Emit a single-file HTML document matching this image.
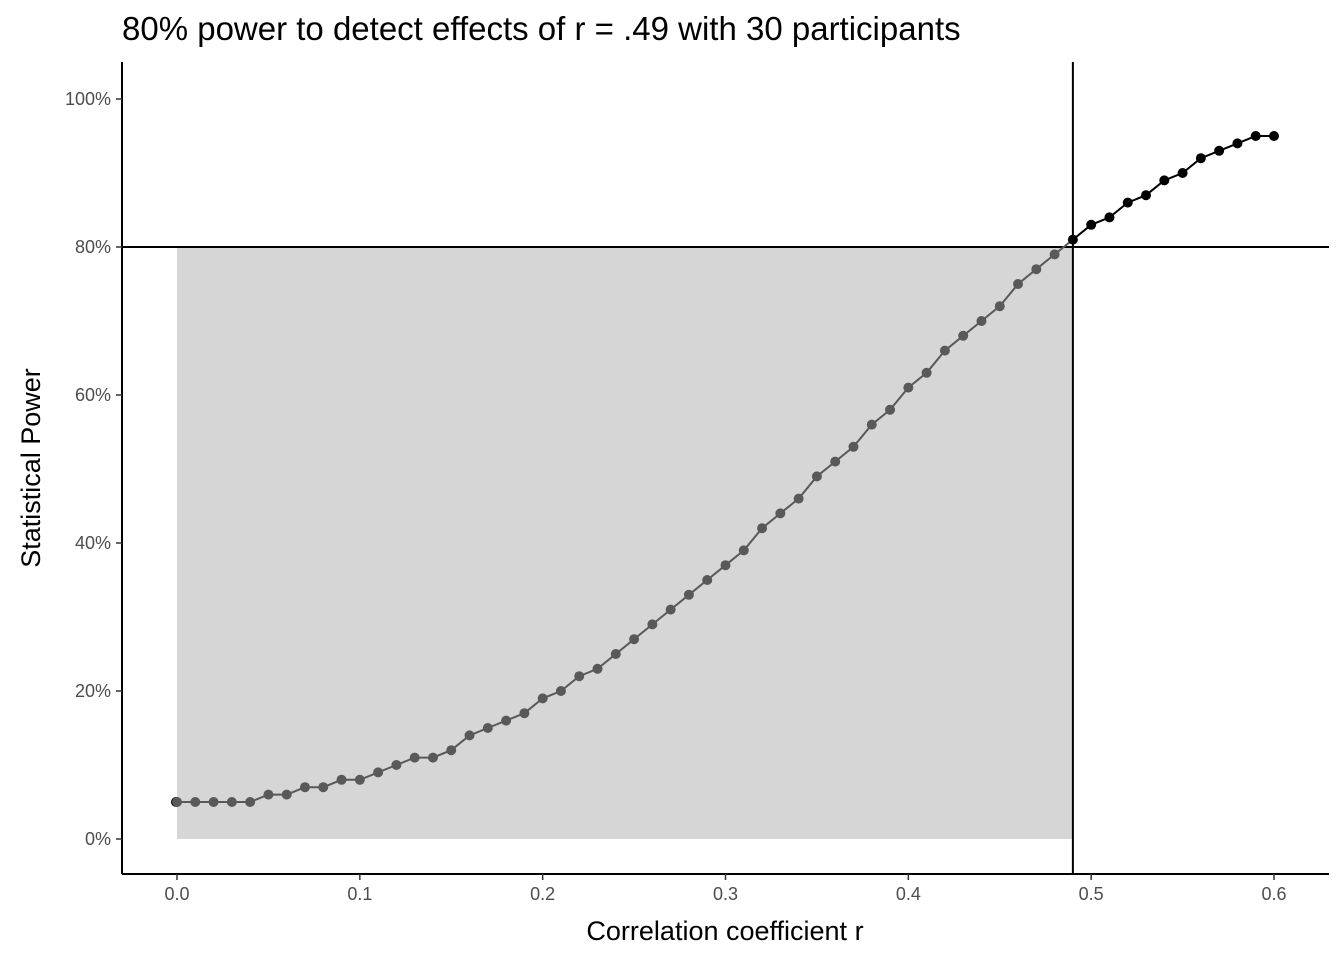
<!DOCTYPE html>
<html><head><meta charset="utf-8"><style>
body{margin:0;background:#fff;font-family:"Liberation Sans",Arial,sans-serif;}
svg text{font-family:"Liberation Sans",Arial,sans-serif;}
</style></head><body>
<svg id="chart" width="1344" height="960">
<text x="122" y="40" font-size="33" fill="#000">80% power to detect effects of r = .49 with 30 participants</text>
<text x="725" y="940" font-size="27" text-anchor="middle" fill="#000">Correlation coefficient r</text>
<text transform="translate(40,468) rotate(-90)" font-size="27" text-anchor="middle" fill="#000">Statistical Power</text>
<g id="plot"></g>
</svg>
<script>
const rValues=[0,0.01,0.02,0.03,0.04,0.05,0.06,0.07,0.08,0.09,0.10,0.11,0.12,0.13,0.14,0.15,0.16,0.17,0.18,0.19,0.20,0.21,0.22,0.23,0.24,0.25,0.26,0.27,0.28,0.29,0.30,0.31,0.32,0.33,0.34,0.35,0.36,0.37,0.38,0.39,0.40,0.41,0.42,0.43,0.44,0.45,0.46,0.47,0.48,0.49,0.50,0.51,0.52,0.53,0.54,0.55,0.56,0.57,0.58,0.59,0.60];
const powerValues=[5,5,5,5,5,6,6,7,7,8,8,9,10,11,11,12,14,15,16,17,19,20,22,23,25,27,29,31,33,35,37,39,42,44,46,49,51,53,56,58,61,63,66,68,70,72,75,77,79,81,83,84,86,87,89,90,92,93,94,95,95];
const xTicks=[0,0.1,0.2,0.3,0.4,0.5,0.6];
const xTickLabels=["0.0","0.1","0.2","0.3","0.4","0.5","0.6"];
const yTicks=[0,20,40,60,80,100];
const yTickLabels=["0%","20%","40%","60%","80%","100%"];
const targetR=[0.49];
const targetPower=[80];
const X=v=>177+(v/0.6)*(1274-177);
const Y=v=>839-(v/100)*(839-99);
const ns="http://www.w3.org/2000/svg";
const g=document.getElementById('plot');
function mk(t,a){const e=document.createElementNS(ns,t);for(const k in a)e.setAttribute(k,a[k]);g.appendChild(e);return e;}
const L=122,R=1329,T=62,B=874;
let e;
e=mk('rect',{x:X(0),y:Y(targetPower[0]),width:X(targetR[0])-X(0),height:Y(0)-Y(targetPower[0]),fill:'#d6d6d6'});


e=mk('line',{x1:L,x2:R,y1:Y(targetPower[0]),y2:Y(targetPower[0]),stroke:'#000','stroke-width':2});


e=mk('line',{x1:X(targetR[0]),x2:X(targetR[0]),y1:T,y2:B,stroke:'#000','stroke-width':2});


let gp=[],bp=[];
rValues.forEach((r,i)=>{const p=X(r)+','+Y(powerValues[i]);if(r<targetR[0]-1e-9)gp.push(p);else bp.push(p);});
const idx=rValues.findIndex(r=>r>=targetR[0]-1e-9);
if(idx>0)gp.push(X(rValues[idx])+','+Y(powerValues[idx]));
e=mk('polyline',{points:gp.join(' '),fill:'none',stroke:'#595959','stroke-width':2});


e=mk('polyline',{points:bp.join(' '),fill:'none',stroke:'#000','stroke-width':2});


e=mk('circle',{cx:X(rValues[0])-1,cy:Y(powerValues[0]),r:5,fill:'#000'});


rValues.forEach((r,i)=>{
  const c=mk('circle',{cx:X(r),cy:Y(powerValues[i]),r:5,fill:r<targetR[0]-1e-9?'#595959':'#000'});
  
  
});
e=mk('line',{x1:L,x2:L,y1:T,y2:B,stroke:'#000','stroke-width':2});


e=mk('line',{x1:L,x2:R,y1:B,y2:B,stroke:'#000','stroke-width':2});


xTicks.forEach((v,i)=>{
  const t=mk('line',{x1:X(v),x2:X(v),y1:B,y2:B+6,stroke:'#333','stroke-width':1.5});
  
  
  const tx=mk('text',{x:X(v),y:B+26,'font-size':18,'text-anchor':'middle',fill:'#4d4d4d'});
  tx.textContent=xTickLabels[i];
  
  
});
yTicks.forEach((v,i)=>{
  const t=mk('line',{x1:L-6,x2:L,y1:Y(v),y2:Y(v),stroke:'#333','stroke-width':1.5});
  
  
  const tx=mk('text',{x:L-11,y:Y(v)+6,'font-size':18,'text-anchor':'end',fill:'#4d4d4d'});
  tx.textContent=yTickLabels[i];
  
  
});
</script>
</body></html>
